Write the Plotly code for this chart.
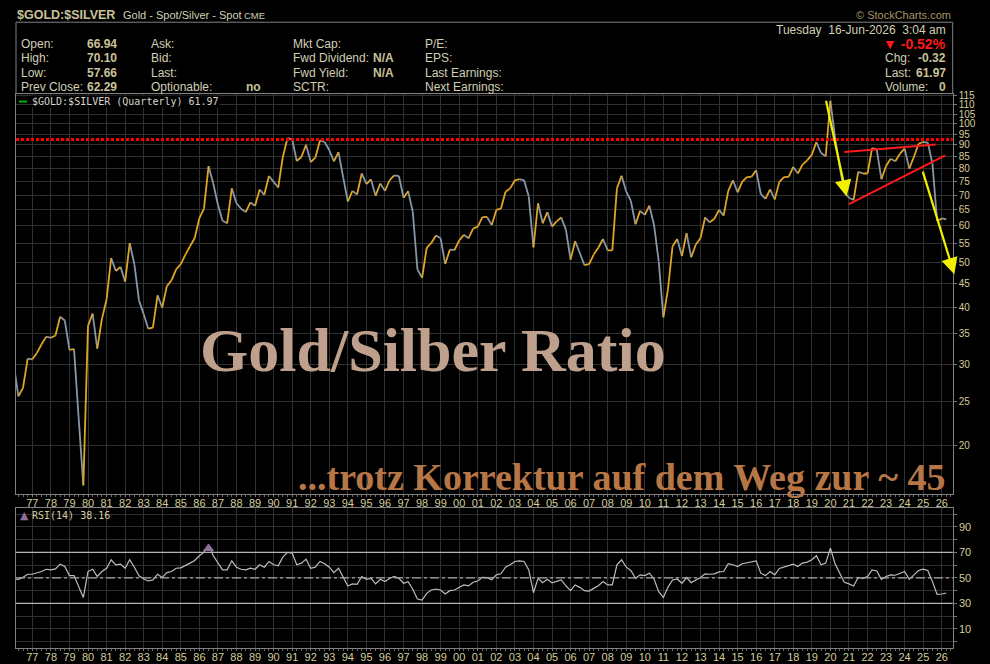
import numpy as np
import pandas as pd
import plotly.graph_objects as go

W, H = 990, 664

# quarterly closes of $GOLD:$SILVER (Q1 1976 .. Q2 2026)
ratio = [30.0, 25.6, 26.7, 30.9, 30.8, 31.8, 33.2, 34.5, 34.3, 34.7,
         38.1, 37.4, 32.3, 32.4, 23.0, 16.4, 36.4, 38.7, 32.5, 37.7,
         41.6, 51.1, 47.9, 48.9, 45.4, 55.1, 49.5, 41.3, 38.6, 35.9,
         36.1, 42.4, 39.9, 44.4, 45.7, 48.3, 49.6, 52.0, 54.2, 56.5,
         62.4, 65.4, 80.9, 74.2, 66.7, 61.6, 60.8, 72.4, 67.2, 65.4,
         64.3, 67.5, 66.4, 72.0, 70.1, 77.0, 74.8, 72.7, 84.7, 93.1,
         92.5, 83.0, 84.7, 90.0, 82.6, 84.4, 92.0, 91.3, 87.6, 82.9,
         86.8, 76.5, 67.8, 71.5, 70.2, 78.0, 74.0, 75.7, 69.8, 74.2,
         71.5, 75.4, 77.3, 77.0, 69.1, 71.4, 64.5, 48.3, 46.3, 53.8,
         55.1, 57.2, 56.4, 49.6, 53.3, 53.2, 55.8, 57.4, 56.4, 59.2,
         59.8, 62.7, 62.8, 60.3, 65.0, 65.4, 71.2, 72.4, 75.4, 75.8,
         75.4, 69.5, 53.9, 67.2, 60.8, 64.3, 59.8, 61.4, 62.6, 58.9,
         50.7, 55.6, 52.4, 49.3, 49.6, 52.0, 53.8, 56.2, 53.1, 53.1,
         72.4, 77.1, 71.2, 68.0, 60.5, 64.7, 63.4, 66.4, 60.3, 50.3,
         38.0, 43.7, 54.2, 56.2, 51.6, 57.9, 51.3, 54.7, 56.5, 62.6,
         61.1, 62.2, 65.0, 63.2, 71.5, 75.4, 71.0, 74.8, 76.6, 76.7,
         79.3, 70.4, 68.7, 72.0, 68.5, 74.8, 76.6, 76.7, 80.6, 78.0,
         81.5, 83.3, 85.7, 91.3, 86.4, 85.0, 112.2, 93.4, 80.6, 71.2,
         69.1, 68.3, 78.6, 78.0, 78.0, 88.6, 88.0, 75.8, 81.0, 84.0,
         82.9, 86.1, 88.3, 79.9, 84.7, 90.5, 91.3, 91.0, 82.0, 61.5,
         62.29, 61.97]

rsi = [49.0, 48.9, 50.5, 52.9, 52.9, 53.7, 55.0, 56.8, 56.3, 57.1,
       60.8, 58.9, 51.8, 51.8, 43.2, 34.7, 55.0, 56.8, 51.1, 55.0,
       57.6, 64.2, 60.3, 60.8, 57.6, 64.2, 58.4, 51.6, 49.2, 47.6,
       48.4, 52.9, 50.3, 54.2, 55.0, 57.6, 57.9, 59.5, 61.6, 63.7,
       67.4, 70.0, 76.1, 67.4, 61.6, 56.3, 56.3, 63.4, 58.4, 56.8,
       56.3, 57.6, 56.8, 60.3, 58.4, 62.9, 60.3, 59.5, 66.3, 70.0,
       69.5, 60.3, 61.6, 64.7, 57.6, 58.4, 62.9, 61.1, 58.4, 54.2,
       57.6, 50.3, 43.7, 45.3, 45.0, 51.1, 48.9, 49.7, 45.3, 48.9,
       47.1, 49.5, 51.1, 49.7, 45.8, 47.1, 41.1, 33.4, 32.6, 37.9,
       40.5, 41.3, 40.5, 37.4, 40.0, 40.5, 42.6, 44.5, 43.7, 46.6,
       47.6, 50.5, 50.3, 48.6, 52.4, 53.2, 58.4, 60.3, 62.9, 63.4,
       62.9, 56.3, 38.4, 49.7, 46.3, 48.9, 46.1, 47.1, 48.4, 43.7,
       40.0, 44.5, 42.6, 40.0, 39.7, 41.8, 43.9, 47.1, 44.5, 44.5,
       60.3, 64.2, 58.4, 55.8, 49.7, 52.4, 51.8, 53.7, 49.2, 39.2,
       34.7, 42.6, 48.4, 49.2, 45.8, 50.3, 46.3, 48.4, 50.3, 53.2,
       52.9, 53.2, 54.7, 55.0, 61.1, 60.3, 58.9, 61.1, 61.8, 62.1,
       63.4, 53.7, 51.8, 55.0, 52.4, 57.4, 58.4, 59.5, 60.8, 58.9,
       61.6, 62.4, 64.2, 67.4, 60.3, 61.6, 73.4, 61.1, 53.7, 46.6,
       45.3, 43.7, 50.3, 49.7, 51.1, 56.3, 55.5, 48.9, 51.1, 52.4,
       52.1, 53.7, 55.0, 48.9, 52.4, 55.8, 56.8, 55.8, 47.1, 37.1,
       37.4, 38.16]

quarters = pd.date_range("1976-01-01", periods=len(ratio), freq="QS")
x_range = ["1976-02-14", "2026-08-04"]

price_ticks = [20, 25, 30, 35, 40, 45, 50, 55, 60, 65, 70, 75, 80, 85, 90,
               95, 100, 105, 110, 115]
price_range = [15.7, 116.3]
rsi_ticks = [0, 10, 20, 30, 40, 50, 60, 70, 80, 90, 100]
rsi_labels = ["", "10", "", "30", "", "50", "", "70", "", "90", ""]
rsi_range = [-5, 104.5]

resistance = 92.5
wedge_top_x, wedge_top_y = ["2020-10-01", "2025-09-01"], [86.8, 90.2]
wedge_low_x, wedge_low_y = ["2021-01-01", "2026-03-10"], [66.9, 85.4]
drop_from, drop_to = ("2019-10-01", 113.1), ("2020-11-15", 69.5)
target_from, target_to = ("2024-12-15", 79.3), ("2026-09-05", 47.1)

header_left = [("Open:", "66.94"), ("High:", "70.10"), ("Low:", "57.66"), ("Prev Close:", "62.29")]
header_mid = ["Ask:", "Bid:", "Last:", "Optionable:"]
header_fund = [("Mkt Cap:", ""), ("Fwd Dividend:", "N/A"), ("Fwd Yield:", "N/A"), ("SCTR:", "")]
header_earn = ["P/E:", "EPS:", "Last Earnings:", "Next Earnings:"]
header_right = [("Chg:", "-0.32"), ("Last:", "61.97"), ("Volume:", "0")]

GOLD = "#e0a526"
GREY = "#8797a5"
KHAKI = "#d4cc9c"
LABEL = "#d2cfb4"
VALUE = "#c9c299"
GRID = "#303030"
FRAME = "#808080"

fig = go.Figure()

# colour-coded price line: rising segments gold, falling segments grey
up_x, up_y, dn_x, dn_y = [], [], [], []
for i in range(len(ratio) - 1):
    sx = [quarters[i], quarters[i + 1], None]
    sy = [ratio[i], ratio[i + 1], None]
    if ratio[i + 1] >= ratio[i]:
        up_x += sx
        up_y += sy
    else:
        dn_x += sx
        dn_y += sy

fig.add_trace(go.Scatter(x=dn_x, y=dn_y, mode="lines", line=dict(color=GREY, width=1.8),
                         xaxis="x", yaxis="y", hoverinfo="skip"))
fig.add_trace(go.Scatter(x=up_x, y=up_y, mode="lines", line=dict(color=GOLD, width=1.8),
                         xaxis="x", yaxis="y", hoverinfo="skip"))

# wedge
for wx, wy in [(wedge_top_x, wedge_top_y), (wedge_low_x, wedge_low_y)]:
    fig.add_trace(go.Scatter(x=wx, y=wy, mode="lines", line=dict(color="#ff1a1a", width=2),
                             xaxis="x", yaxis="y", hoverinfo="skip"))

# RSI
fig.add_trace(go.Scatter(x=quarters, y=rsi, mode="lines", line=dict(color="#bdbdbd", width=1.2),
                         xaxis="x2", yaxis="y2", hoverinfo="skip"))
hot = [i for i, v in enumerate(rsi) if v > 75]
fig.add_trace(go.Scatter(x=[quarters[i] for i in hot], y=[(rsi[i] + 70) / 2 for i in hot],
                         mode="markers", marker=dict(symbol="triangle-up", size=10, color="#8e6e98"),
                         xaxis="x2", yaxis="y2", hoverinfo="skip"))

# resistance line and RSI levels
fig.add_shape(type="line", xref="x domain", yref="y", x0=0, x1=1, y0=resistance, y1=resistance,
              line=dict(color="#ff0000", width=3, dash="3px,2px"))
for lvl in (70, 30):
    fig.add_shape(type="line", xref="x2 domain", yref="y2", x0=0, x1=1, y0=lvl, y1=lvl,
                  line=dict(color="#b4b4b4", width=1.3))
fig.add_shape(type="line", xref="x2 domain", yref="y2", x0=0, x1=1, y0=50, y1=50,
              line=dict(color="#a8a8a8", width=1.2, dash="dashdot"))

# yellow arrows (annotation y on a log axis is log10)
for (tx, ty), (hx, hy) in [(drop_from, drop_to), (target_from, target_to)]:
    fig.add_annotation(x=hx, y=np.log10(hy), ax=tx, ay=np.log10(ty), xref="x", yref="y",
                       axref="x", ayref="y", text="", showarrow=True, arrowhead=2,
                       arrowsize=1.5, arrowwidth=2.2, arrowcolor="#f2f000", standoff=0)

axis_font = dict(family="Liberation Sans, Arial", size=11, color=KHAKI)
yaxis_font = dict(family="Liberation Sans, Arial", size=10, color=KHAKI)
xcommon = dict(type="date", range=x_range, tickformat="%y", dtick="M12", tick0="1977-01-01",
               showgrid=True, gridcolor=GRID, gridwidth=1, showline=True, linecolor=FRAME,
               mirror=True, ticks="outside", ticklen=2, tickcolor="#777", tickfont=axis_font,
               ticklabelstandoff=-3,
               minor=dict(dtick="M3", ticks="outside", ticklen=2, tickcolor="#666", showgrid=False),
               zeroline=False)

fig.update_layout(
    width=W, height=H, margin=dict(l=0, r=0, t=0, b=0),
    paper_bgcolor="#000000", plot_bgcolor="#000000", showlegend=False,
    xaxis=dict(domain=[16 / W, 952.7 / W], anchor="y", **xcommon),
    xaxis2=dict(domain=[16 / W, 952.7 / W], anchor="y2", matches="x", **xcommon),
    yaxis=dict(domain=[1 - 493.3 / H, 1 - 91 / H], anchor="x", type="log",
               range=[np.log10(price_range[0]), np.log10(price_range[1])],
               tickvals=price_ticks, side="right", showgrid=True, gridcolor=GRID,
               showline=True, linecolor=FRAME, mirror=True, ticks="outside", ticklen=3,
               tickcolor="#777", tickfont=yaxis_font, zeroline=False),
    yaxis2=dict(domain=[1 - 648 / H, 1 - 507.7 / H], anchor="x2", range=rsi_range,
                tickvals=rsi_ticks, ticktext=rsi_labels, side="right", showgrid=True,
                gridcolor=GRID, showline=True, linecolor=FRAME, mirror=True, ticks="outside",
                ticklen=3, tickcolor="#777", tickfont=axis_font, zeroline=False),
)


def text_at(s, x, y, anchor="left", size=12, color=LABEL, family="Liberation Sans, Arial", bg=None):
    fig.add_annotation(x=x / W, y=1 - y / H, xref="paper", yref="paper", text=s,
                       showarrow=False, xanchor=anchor, yanchor="middle",
                       font=dict(family=family, size=size, color=color),
                       bgcolor=bg, borderpad=0)


# header
fig.add_shape(type="rect", xref="paper", yref="paper", x0=16 / W, x1=952.7 / W,
              y0=1 - 91 / H, y1=1 - 19.3 / H, line=dict(color=FRAME, width=1))
text_at("<b>$GOLD:$SILVER</b>", 16, 12, size=12.5, color=VALUE)
text_at("Gold - Spot/Silver - Spot", 122, 12, size=11, color=LABEL)
text_at("CME", 243, 12.5, size=9.5, color=LABEL)
text_at("© StockCharts.com", 952, 12, anchor="right", size=11, color="#a39468")

rows = [41, 55.5, 70, 84.3]
for (lab, val), y in zip(header_left, rows):
    text_at(lab, 20, y)
    text_at(f"<b>{val}</b>", 86, y, color=VALUE)
for lab, y in zip(header_mid, rows):
    text_at(lab, 150, y)
text_at("<b>no</b>", 245, rows[3], color=VALUE)
for (lab, val), y in zip(header_fund, rows):
    text_at(lab, 292, y)
    if val:
        text_at(f"<b>{val}</b>", 372, y, color=VALUE)
for lab, y in zip(header_earn, rows):
    text_at(lab, 424, y)

text_at("Tuesday  16-Jun-2026  3:04 am", 947, 26.7, anchor="right")
text_at("<b>▼ -0.52%</b>", 947, 41, anchor="right", size=14, color="#ff1a1a")
for (lab, val), y in zip(header_right, rows[1:]):
    text_at(lab, 884, y)
    text_at(f"<b>{val}</b>", 947, y, anchor="right", color=VALUE)

# panel labels
fig.add_shape(type="line", xref="paper", yref="paper", x0=19 / W, x1=27 / W,
              y0=1 - 99 / H, y1=1 - 99 / H, line=dict(color="#00b400", width=2))
text_at(f"$GOLD:$SILVER (Quarterly) {ratio[-1]:.2f}", 31, 99, size=10,
        color="#d6d6cc", family="DejaVu Sans Mono", bg="#000000")
text_at("▲", 19, 515, size=11, color="#8e6e98", family="DejaVu Sans")
text_at(f"RSI(14) {rsi[-1]:.2f}", 31, 515, size=10, color=KHAKI, family="DejaVu Sans Mono")

# captions
text_at("<b>Gold/Silber Ratio</b>", 433, 349, anchor="center", size=62, color="#bea08c",
        family="Liberation Serif, Times New Roman")
text_at("<b>...trotz Korrektur auf dem Weg zur ~ 45</b>", 621, 476, anchor="center", size=38,
        color="#b77646", family="Liberation Serif, Times New Roman")

fig.write_html("out.html", config={"displayModeBar": False},
               post_script="document.body.style.margin='0';")
